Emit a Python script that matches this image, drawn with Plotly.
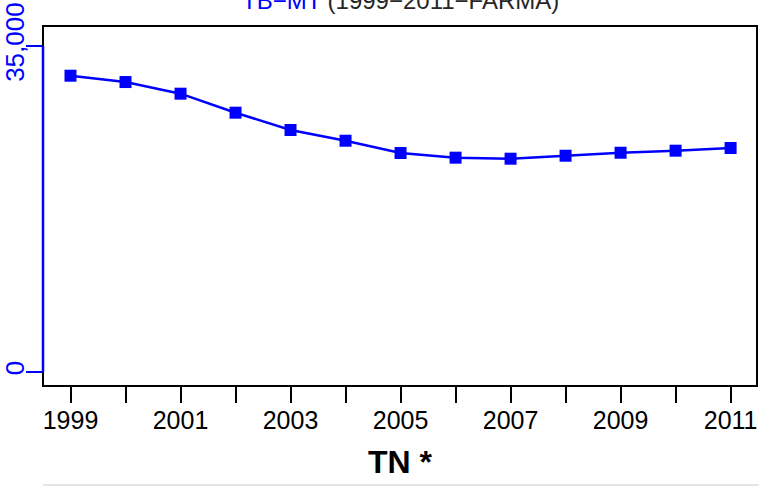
import plotly.graph_objects as go

years = [1999, 2000, 2001, 2002, 2003, 2004, 2005, 2006, 2007, 2008, 2009, 2010, 2011]
values = [31810, 31130, 29880, 27840, 25980, 24830, 23510, 23010, 22900, 23220, 23540, 23760, 24050]
x_tick_vals = years
x_tick_text = [str(y) if (y - 1999) % 2 == 0 else "" for y in years]
y_tick_vals = [0, 35000]
y_tick_text = ["0", "35,000"]

FONT = "Liberation Sans, Arial, sans-serif"
BLUE = "#0000FF"

fig = go.Figure()
fig.add_trace(go.Scatter(
    x=years, y=values, mode="lines+markers",
    line=dict(color=BLUE, width=2.5),
    marker=dict(symbol="square", size=12, color=BLUE),
    showlegend=False, hoverinfo="x+y",
))

fig.update_layout(
    width=759, height=487,
    margin=dict(l=43, r=2, t=26, b=101),
    paper_bgcolor="white", plot_bgcolor="white",
    font=dict(family=FONT, size=25, color="black"),
    xaxis=dict(
        range=[1998.5, 2011.48], tickvals=x_tick_vals, ticktext=x_tick_text,
        ticks="outside", ticklen=16, tickwidth=2, tickcolor="black",
        showgrid=False, zeroline=False, showline=False, automargin=False,
        ticklabelstandoff=-4,
        tickfont=dict(size=25, color="black", family=FONT),
        title=dict(text="<b>TN *</b>", font=dict(size=32, color="black", family=FONT), standoff=17),
    ),
    yaxis=dict(
        range=[-1503, 37147], tickvals=y_tick_vals, ticktext=y_tick_text,
        ticks="outside", ticklen=16, tickwidth=2, tickcolor=BLUE,
        tickangle=-90, showgrid=False, zeroline=False, showline=False, automargin=False,
        ticklabelstandoff=-8,
        tickfont=dict(size=26, color=BLUE, family=FONT),
    ),
    shapes=[
        dict(type="rect", xref="paper", yref="paper", x0=0, x1=1, y0=0, y1=1,
             line=dict(color="black", width=2)),
        dict(type="line", xref="paper", yref="y", x0=0, x1=0, y0=0, y1=35000,
             line=dict(color=BLUE, width=2.5)),
        dict(type="line", xref="paper", yref="paper", x0=0, x1=1.01, y0=-0.275, y1=-0.275,
             line=dict(color="#CCCCCC", width=1)),
    ],
    annotations=[
        dict(xref="paper", yref="paper", x=0.5, y=1.07, xanchor="center", yanchor="middle",
             showarrow=False,
             text='<span style="color:#0000FF">TB\u2212MT</span> (1999\u22122011\u2212FARMA)',
             font=dict(size=24, color="#262626", family=FONT)),
    ],
)

fig.write_html("out.html", config={"displayModeBar": False},
               post_script="document.body.style.margin='0';")
